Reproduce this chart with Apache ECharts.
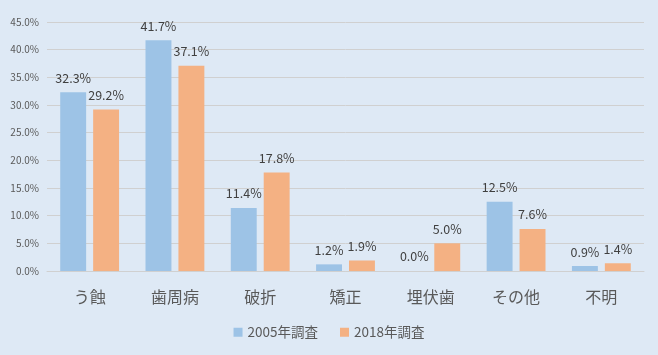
<!DOCTYPE html>
<html><head><meta charset="utf-8">
<script src="https://cdn.jsdelivr.net/npm/echarts@6/dist/echarts.min.js"></script>
<style>html,body{margin:0;padding:0;background:#dee9f5;}#c{width:658px;height:355px;}</style>
</head><body><div id="c"></div>
<script>
const categories = ["う蝕","歯周病","破折","矯正","埋伏歯","その他","不明"];
const s2005 = [32.3, 41.7, 11.4, 1.2, 0.0, 12.5, 0.9];
const s2018 = [29.2, 37.1, 17.8, 1.9, 5.0, 7.6, 1.4];
const seriesNames = ["2005年調査","2018年調査"];
const font = '"Noto Sans CJK JP", sans-serif';
const chart = echarts.init(document.getElementById('c'));
const lbl = {show:true, position:'top', distance:8, color:'#404040', fontSize:12.5, fontFamily:font, formatter:p=>p.value.toFixed(1)+'%'};
chart.setOption({
  backgroundColor:'#dee9f5',
  animation:false,
  grid:{left:47, right:14, top:22, bottom:84},
  legend:{bottom:11, left:'center', itemWidth:9, itemHeight:9, itemGap:22, icon:'rect',
    textStyle:{color:'#595959', fontSize:13.5, fontFamily:font}, data:seriesNames},
  xAxis:{type:'category', data:categories, axisTick:{show:false},
    axisLine:{lineStyle:{color:'#d0d0d0'}},
    axisLabel:{color:'#595959', fontSize:16, fontFamily:font, margin:18}},
  yAxis:{type:'value', min:0, max:45, interval:5,
    axisLabel:{color:'#595959', fontSize:10, fontFamily:font, formatter:v=>v.toFixed(1)+'%', margin:8},
    splitLine:{lineStyle:{color:'#d0d0d0'}}, axisLine:{show:false}},
  series:[
    {name:seriesNames[0], type:'bar', data:s2005, itemStyle:{color:'#9dc3e6'}, barGap:'27%', barCategoryGap:'31%', label:lbl},
    {name:seriesNames[1], type:'bar', data:s2018, itemStyle:{color:'#f4b183'}, label:lbl}
  ]
});
</script></body></html>
